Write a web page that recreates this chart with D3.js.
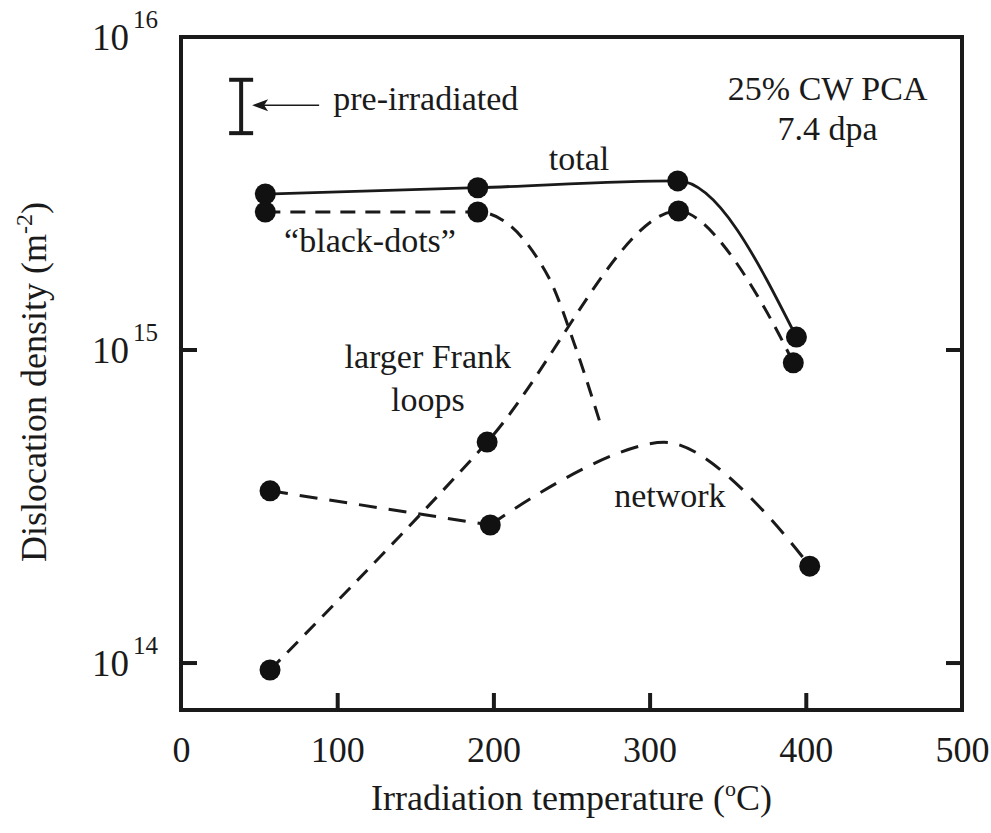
<!DOCTYPE html>
<html><head><meta charset="utf-8">
<script src="https://cdn.jsdelivr.net/npm/d3@7"></script>
<style>
body{margin:0;background:#fff}
text{font-family:"Liberation Serif","Times New Roman",serif;fill:#1a1a1a}
</style>
</head><body>
<svg id="c" width="991" height="833"></svg>
<script>
// ---- data ----
const xTicks = [0, 100, 200, 300, 400, 500];
const yTickExps = [14, 15, 16];

const totalT = [54, 190, 318, 394];
const totalV = [3.15e15, 3.3e15, 3.47e15, 1.1e15];

const blackDotsT = [54, 190];
const blackDotsV = [2.76e15, 2.76e15];
const blackDotsCurveT = [54, 190, 235, 252, 269.5];
const blackDotsCurveV = [2.76e15, 2.76e15, 1.72e15, 1.04e15, 5.6e14];

const frankT = [57, 196, 318.5, 392];
const frankV = [9.5e13, 5.08e14, 2.78e15, 9.1e14];

const networkT = [57, 198, 402.5];
const networkV = [3.55e14, 2.76e14, 2.04e14];
const networkCurveT = [57, 198, 314, 402.5];
const networkCurveV = [3.55e14, 2.76e14, 5.05e14, 2.04e14];

const preIrrT = 38.5;
const preIrrLow = 4.93e15, preIrrHigh = 7.3e15, preIrrMid = 6.05e15;

// ---- layout ----
const svg = d3.select("#c");
const L = 181, R = 962, T = 37, B = 710;
const x = d3.scaleLinear().domain([0, 500]).range([L, R]);
const y = d3.scaleLog().domain([Math.pow(10, 13.85), 1e16]).range([B, T]);
const ink = "#1a1a1a";

// frame
svg.append("rect").attr("x", L).attr("y", T).attr("width", R - L).attr("height", B - T)
  .attr("fill", "none").attr("stroke", ink).attr("stroke-width", 4);

// x axis ticks + labels
const xAxis = d3.axisBottom(x).tickValues(xTicks).tickSizeInner(-17).tickSizeOuter(0).tickPadding(26)
  .tickFormat(d3.format("d"));
const gx = svg.append("g").attr("transform", `translate(0,${B})`).call(xAxis);
gx.select(".domain").remove();
gx.selectAll(".tick line").attr("stroke", ink).attr("stroke-width", 4)
  .attr("display", d => (d === 0 || d === 500) ? "none" : null);
gx.selectAll(".tick text").attr("font-size", 36).attr("font-family", "Liberation Serif").attr("fill", ink);

// y ticks (left & right, inward)
const yMid = yTickExps.filter(e => e !== 16);
svg.append("g").selectAll("line").data(yMid).join("line")
  .attr("x1", L).attr("x2", L + 16).attr("y1", d => y(Math.pow(10, d))).attr("y2", d => y(Math.pow(10, d)))
  .attr("stroke", ink).attr("stroke-width", 4);
svg.append("g").selectAll("line").data(yMid).join("line")
  .attr("x1", R).attr("x2", R - 16).attr("y1", d => y(Math.pow(10, d))).attr("y2", d => y(Math.pow(10, d)))
  .attr("stroke", ink).attr("stroke-width", 4);

// y tick labels 10^n
const yl = svg.append("g").selectAll("g").data(yTickExps).join("g")
  .attr("transform", d => `translate(0,${y(Math.pow(10, d))})`);
yl.append("text").attr("x", 129).attr("y", 13).attr("text-anchor", "end").attr("font-size", 37).text("10");
yl.append("text").attr("x", 133).attr("y", -9).attr("font-size", 25).text(d => d);

// axis titles
svg.append("text").attr("x", (L + R) / 2).attr("y", 810).attr("text-anchor", "middle").attr("font-size", 36)
  .html('Irradiation temperature (<tspan dy="-14" font-size="22">o</tspan><tspan dy="14">C)</tspan>');
svg.append("text").attr("transform", "translate(46,382) rotate(-90)").attr("text-anchor", "middle").attr("font-size", 36)
  .html('Dislocation density (m<tspan dy="-14" font-size="24">-2</tspan><tspan dy="14">)</tspan>');

// lines
const lineGen = (curve) => d3.line().x(d => x(d[0])).y(d => y(d[1])).curve(curve);
const zip = (a, b) => a.map((v, i) => [v, b[i]]);
const dash = "15,10";

svg.append("path").datum(zip(totalT, totalV)).attr("d", lineGen(d3.curveMonotoneX))
  .attr("fill", "none").attr("stroke", ink).attr("stroke-width", 2.8);
svg.append("path").datum(zip(blackDotsCurveT, blackDotsCurveV)).attr("d", lineGen(d3.curveMonotoneX))
  .attr("fill", "none").attr("stroke", ink).attr("stroke-width", 3).attr("stroke-dasharray", dash);
svg.append("path").datum(zip(frankT, frankV)).attr("d", lineGen(d3.curveCatmullRom))
  .attr("fill", "none").attr("stroke", ink).attr("stroke-width", 3).attr("stroke-dasharray", dash);
const netPts = zip(networkCurveT, networkCurveV);
svg.append("path").datum(netPts.slice(0, 2)).attr("d", lineGen(d3.curveLinear))
  .attr("fill", "none").attr("stroke", ink).attr("stroke-width", 3).attr("stroke-dasharray", "18,12");
svg.append("path").datum(netPts.slice(1)).attr("d", lineGen(d3.curveCatmullRom))
  .attr("fill", "none").attr("stroke", ink).attr("stroke-width", 3).attr("stroke-dasharray", "18,12");

// markers
const allPts = [].concat(zip(totalT, totalV), zip(blackDotsT, blackDotsV), zip(frankT, frankV), zip(networkT, networkV));
svg.append("g").selectAll("circle").data(allPts).join("circle")
  .attr("cx", d => x(d[0])).attr("cy", d => y(d[1])).attr("r", 10.5).attr("fill", "#111");

// pre-irradiated bar
const bx = x(preIrrT);
const pg = svg.append("g").attr("stroke", ink).attr("stroke-width", 4);
pg.append("line").attr("x1", bx).attr("x2", bx).attr("y1", y(preIrrHigh)).attr("y2", y(preIrrLow));
pg.append("line").attr("x1", bx - 12).attr("x2", bx + 12).attr("y1", y(preIrrHigh)).attr("y2", y(preIrrHigh));
pg.append("line").attr("x1", bx - 12).attr("x2", bx + 12).attr("y1", y(preIrrLow)).attr("y2", y(preIrrLow));
const ay = y(preIrrMid);
svg.append("line").attr("x1", bx + 14).attr("x2", bx + 78).attr("y1", ay).attr("y2", ay)
  .attr("stroke", ink).attr("stroke-width", 1.6);
svg.append("path").attr("d", `M${bx + 11},${ay} L${bx + 27},${ay - 6} L${bx + 23},${ay} L${bx + 27},${ay + 6} Z`)
  .attr("fill", ink);

// annotations
const ann = [
  { t: 97.5, v: 5.85e15, s: "pre-irradiated", a: "start" },
  { t: 254.8, v: 3.76e15, s: "total", a: "middle" },
  { t: 121, v: 2.06e15, s: "\u201cblack-dots\u201d", a: "middle" },
  { t: 158, v: 8.77e14, s: "larger Frank", a: "middle" },
  { t: 158, v: 6.38e14, s: "loops", a: "middle" },
  { t: 313, v: 3.15e14, s: "network", a: "middle" },
  { t: 414, v: 6.3e15, s: "25% CW PCA", a: "middle" },
  { t: 414, v: 4.69e15, s: "7.4 dpa", a: "middle" }
];
svg.append("g").selectAll("text").data(ann).join("text")
  .attr("x", d => x(d.t)).attr("y", d => y(d.v)).attr("text-anchor", d => d.a)
  .attr("font-size", 34).text(d => d.s);
</script>
</body></html>
